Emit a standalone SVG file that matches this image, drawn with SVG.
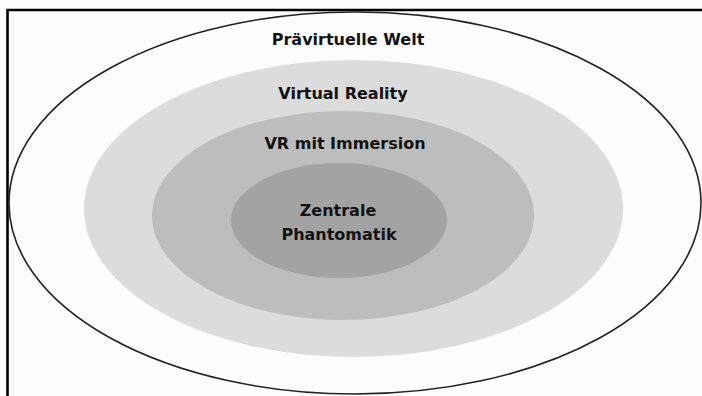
<svg xmlns="http://www.w3.org/2000/svg" width="702" height="396" viewBox="0 0 702 396">
  <style>
    .lbl { font-family: "DejaVu Sans", Verdana, sans-serif; font-weight: bold; font-size: 16px; fill: #111; text-anchor: middle; }
  </style>
  <rect x="0" y="0" width="702" height="396" fill="#fdfdfd"/>
  <path d="M7.5,396 V10 H702" fill="none" stroke="#000" stroke-width="2.6"/>
  <g id="praevirtuelle-welt">
    <ellipse cx="355" cy="203" rx="346" ry="191" fill="#fdfdfd" stroke="#222" stroke-width="1.6"/>
    <text class="lbl" x="348" y="45">Prävirtuelle Welt</text>
  </g>
  <g id="virtual-reality">
    <ellipse cx="353.5" cy="208.5" rx="269.5" ry="148.5" fill="#dcdcdc"/>
    <text class="lbl" x="343" y="99">Virtual Reality</text>
  </g>
  <g id="vr-mit-immersion">
    <ellipse cx="343" cy="215.5" rx="191" ry="104.5" fill="#bdbdbd"/>
    <text class="lbl" x="345" y="149">VR mit Immersion</text>
  </g>
  <g id="zentrale-phantomatik">
    <ellipse cx="339" cy="220.5" rx="108" ry="57.5" fill="#a3a3a3"/>
    <text class="lbl" x="338" y="216">Zentrale</text>
    <text class="lbl" x="339" y="240">Phantomatik</text>
  </g>
  <g id="connectors"/>
</svg>
